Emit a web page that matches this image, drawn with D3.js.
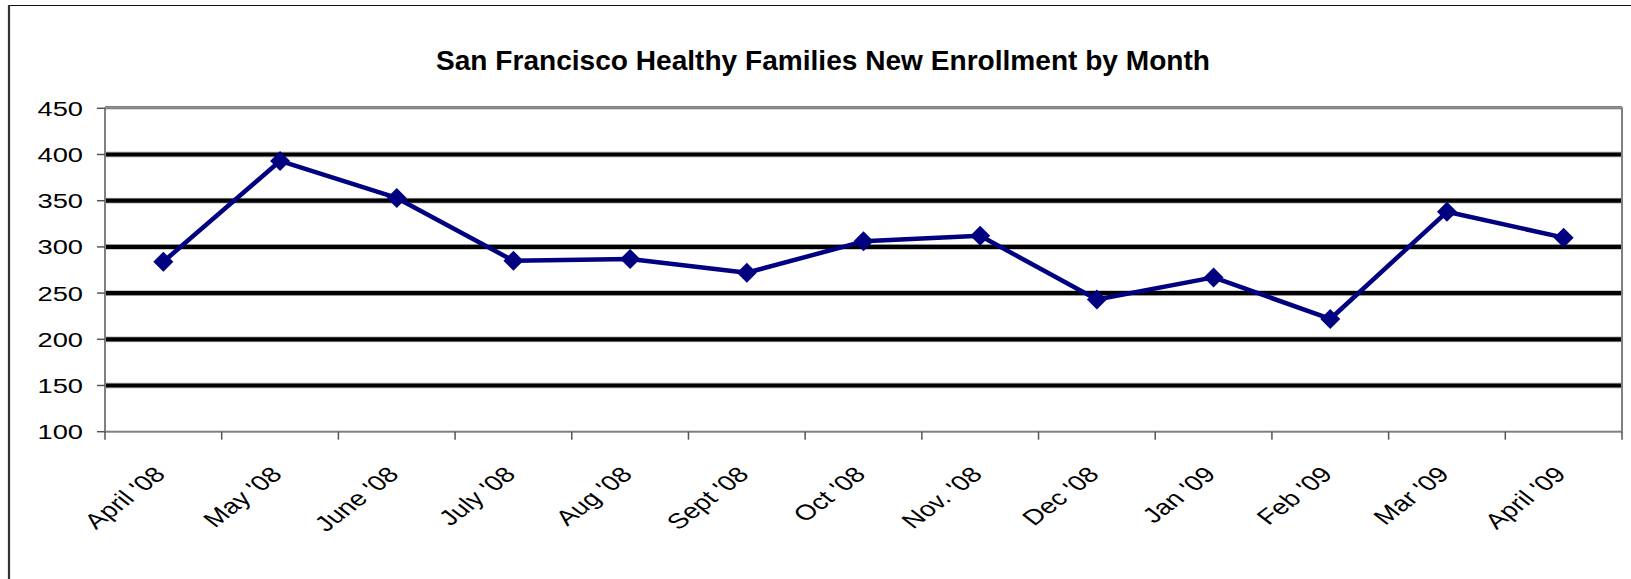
<!DOCTYPE html>
<html>
<head>
<meta charset="utf-8">
<script src="https://cdn.jsdelivr.net/npm/d3@7"></script>
<style>
  body { margin: 0; background: #fff; }
  text { font-family: "Liberation Sans", Arial, sans-serif; }
</style>
</head>
<body>
<svg></svg>
<script>
// data
var months = ["April '08", "May '08", "June '08", "July '08", "Aug '08", "Sept '08",
              "Oct '08", "Nov. '08", "Dec '08", "Jan '09", "Feb '09", "Mar '09", "April '09"];
var enrollment = [284, 393, 353, 285, 287, 272, 306, 312, 243, 267, 222, 338, 310];
var yTicks = [100, 150, 200, 250, 300, 350, 400, 450];
var title = "San Francisco Healthy Families New Enrollment by Month";

var screen = {width: 1631, height: 579};
var plot = {left: 105, right: 1622, top: 108.3, bottom: 431.7};
// the source picture is stretched sideways, so the axis text is too
var stretch = 1.3;

var svg = d3.select("svg")
            .attr("width", screen.width)
            .attr("height", screen.height);

// outer chart frame (right/bottom run off the picture)
svg.append("line").attr("x1", 8.5).attr("x2", screen.width).attr("y1", 5.5).attr("y2", 5.5)
   .attr("stroke", "#111").attr("stroke-width", 1.2);
svg.append("line").attr("x1", 9).attr("x2", 9).attr("y1", 5).attr("y2", screen.height)
   .attr("stroke", "#333").attr("stroke-width", 2.2);

var x = d3.scaleBand()
          .domain(months)
          .range([plot.left, plot.right]);

var y = d3.scaleLinear()
          .domain([100, 450])
          .range([plot.bottom, plot.top]);

// title
svg.append("text")
   .attr("x", 436)
   .attr("y", 70)
   .attr("textLength", 774)
   .attr("lengthAdjust", "spacingAndGlyphs")
   .attr("font-size", 27)
   .attr("font-weight", "bold")
   .attr("fill", "#000")
   .text(title);

// gridlines
var gridVals = yTicks.filter(function(d){ return d > 100 && d < 450; });
var grid = svg.append("g");
grid.selectAll("line.halo")
    .data(gridVals)
    .enter().append("line")
    .attr("x1", plot.left).attr("x2", plot.right)
    .attr("y1", function(d){ return y(d); })
    .attr("y2", function(d){ return y(d); })
    .attr("stroke", "#c8c8c8").attr("stroke-width", 6);
grid.selectAll("line.major")
    .data(gridVals)
    .enter().append("line")
    .attr("x1", plot.left).attr("x2", plot.right)
    .attr("y1", function(d){ return y(d); })
    .attr("y2", function(d){ return y(d); })
    .attr("stroke", "#000").attr("stroke-width", 4.2);

// plot area border
svg.append("rect")
   .attr("x", plot.left).attr("y", plot.top)
   .attr("width", plot.right - plot.left)
   .attr("height", plot.bottom - plot.top)
   .attr("fill", "none")
   .attr("stroke", "#808080").attr("stroke-width", 2);
svg.append("line")
   .attr("x1", plot.left).attr("x2", plot.right)
   .attr("y1", plot.top - 1.5).attr("y2", plot.top - 1.5)
   .attr("stroke", "#808080").attr("stroke-width", 1.5);

// y axis ticks + labels
var yAxis = svg.append("g");
yAxis.selectAll("line")
     .data(yTicks).enter().append("line")
     .attr("x1", plot.left - 8).attr("x2", plot.left)
     .attr("y1", function(d){ return y(d); })
     .attr("y2", function(d){ return y(d); })
     .attr("stroke", "#555").attr("stroke-width", 1.5);
yAxis.selectAll("text")
     .data(yTicks).enter().append("text")
     .attr("transform", function(d){
        return "translate(83," + y(d) + ") scale(" + stretch + ",1)";
     })
     .attr("dy", "0.36em")
     .attr("text-anchor", "end")
     .attr("font-size", 21)
     .text(function(d){ return d; });

// x axis ticks at category boundaries
var xAxis = svg.append("g");
xAxis.selectAll("line")
     .data(months.concat(["end"])).enter().append("line")
     .attr("x1", function(d){ return d === "end" ? plot.right : x(d); })
     .attr("x2", function(d){ return d === "end" ? plot.right : x(d); })
     .attr("y1", plot.bottom).attr("y2", plot.bottom + 8)
     .attr("stroke", "#555").attr("stroke-width", 1.5);
xAxis.selectAll("text")
     .data(months).enter().append("text")
     .attr("transform", function(d){
        return "translate(" + (x(d) + x.bandwidth() / 2 + 3.5) + "," + (plot.bottom + 44) + ")" +
               " scale(" + stretch + ",1) rotate(-45)";
     })
     .attr("text-anchor", "end")
     .attr("font-size", 21.5)
     .text(function(d){ return d; });

// series line
var line = d3.line()
             .x(function(d, i){ return x(months[i]) + x.bandwidth() / 2; })
             .y(function(d){ return y(d); });

svg.append("path")
   .datum(enrollment)
   .attr("d", line)
   .attr("fill", "none")
   .attr("stroke", "#000080")
   .attr("stroke-width", 4.5)
   .attr("stroke-linejoin", "round");

svg.append("g")
   .selectAll("path")
   .data(enrollment).enter().append("path")
   .attr("d", d3.symbol().type(d3.symbolSquare).size(200))
   .attr("transform", function(d, i){
      return "translate(" + (x(months[i]) + x.bandwidth() / 2) + "," + y(d) + ") rotate(45)";
   })
   .attr("fill", "#000080");
</script>
</body>
</html>
